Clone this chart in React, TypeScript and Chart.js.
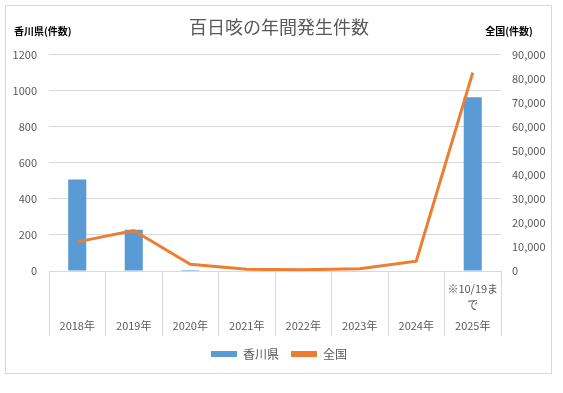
import React, { useEffect, useRef } from "react";
import { Chart, registerables } from "chart.js";

Chart.register(...registerables);

const years = ["2018年", "2019年", "2020年", "2021年", "2022年", "2023年", "2024年", "2025年"];
const kagawa = [507, 229, 5, 0, 0, 0, 0, 963];
const national = [12115, 16850, 2794, 707, 493, 974, 4054, 82500];
const leftTicks = [0, 200, 400, 600, 800, 1000, 1200];
const rightTicks = [0, 10000, 20000, 30000, 40000, 50000, 60000, 70000, 80000, 90000];
const noteLines = ["※10/19ま", "で"];
const noteIndex = 7;

const FONT = "'Noto Sans CJK JP', 'Noto Sans', sans-serif";
const GRAY = "#595959";
const GRID = "#d9d9d9";

const extras = {
  id: "extras",
  afterDraw(chart: any) {
    const ctx = chart.ctx;
    const x = chart.scales.x;
    const y = chart.scales.y;
    ctx.save();
    // axis titles
    ctx.fillStyle = "#000";
    ctx.font = `bold 10px ${FONT}`;
    ctx.textBaseline = "middle";
    ctx.textAlign = "left";
    ctx.fillText("香川県(件数)", 8, 25);
    ctx.textAlign = "center";
    ctx.fillText("全国(件数)", 503, 25);
    // category labels
    ctx.fillStyle = GRAY;
    ctx.font = `11px ${FONT}`;
    years.forEach((t, i) => {
      ctx.fillText(t, x.getPixelForValue(i), y.bottom + 55);
    });
    // annotation under 2025
    const cx = x.getPixelForValue(noteIndex);
    noteLines.forEach((t, i) => {
      ctx.fillText(t, cx, y.bottom + 18 + i * 16);
    });
    ctx.restore();
  },
};

export default function App() {
  const ref = useRef<HTMLCanvasElement>(null);
  useEffect(() => {
    document.body.style.margin = "0";
    const chart = new Chart(ref.current!, {
      data: {
        labels: years,
        datasets: [
          {
            type: "line",
            label: "全国",
            data: national,
            yAxisID: "y1",
            borderColor: "#ED7D31",
            backgroundColor: "#ED7D31",
            borderWidth: 3,
            pointRadius: 0,
            tension: 0,
            order: 0,
          },
          {
            type: "bar",
            label: "香川県",
            data: kagawa,
            yAxisID: "y",
            backgroundColor: "#5B9BD5",
            barPercentage: 0.32,
            categoryPercentage: 1,
            order: 1,
          },
        ],
      } as any,
      options: {
        animation: false,
        responsive: false,
        maintainAspectRatio: false,
        layout: { padding: { left: 7, right: 6, top: 0, bottom: 3 } },
        plugins: {
          title: {
            display: true,
            text: "百日咳の年間発生件数",
            color: GRAY,
            font: { family: FONT, size: 18, weight: "normal" },
            padding: { top: 10, bottom: 17 },
          },
          legend: {
            display: true,
            position: "bottom",
            labels: {
              color: GRAY,
              font: { family: FONT, size: 12 },
              boxWidth: 26,
              boxHeight: 6,
              padding: 12,
              generateLabels: (chart: any) => {
                const ds = chart.data.datasets;
                return [
                  { text: "香川県", fillStyle: ds[1].backgroundColor, strokeStyle: ds[1].backgroundColor, lineWidth: 0, datasetIndex: 1, fontColor: GRAY },
                  { text: "全国", fillStyle: ds[0].borderColor, strokeStyle: ds[0].borderColor, lineWidth: 0, datasetIndex: 0, fontColor: GRAY },
                ];
              },
            },
          },
          tooltip: { enabled: false },
        },
        scales: {
          x: {
            grid: {
              offset: true,
              drawOnChartArea: false,
              drawTicks: true,
              tickLength: 65,
              color: GRID,
            },
            border: { display: true, color: GRID },
            ticks: { display: false },
            afterFit: (s: any) => { s.height = 65; },
          },
          y: {
            position: "left",
            min: 0,
            max: 1200,
            afterBuildTicks: (s: any) => { s.ticks = leftTicks.map((v) => ({ value: v })); },
            grid: { color: GRID, drawTicks: false },
            border: { display: false },
            ticks: {
              color: GRAY,
              font: { family: FONT, size: 11 },
              padding: 12,
              callback: (v: any) => String(v),
            },
            afterFit: (s: any) => { s.width = 36; },
          },
          y1: {
            position: "right",
            min: 0,
            max: 90000,
            afterBuildTicks: (s: any) => { s.ticks = rightTicks.map((v) => ({ value: v })); },
            grid: { drawOnChartArea: false, drawTicks: false },
            border: { display: false },
            ticks: {
              color: GRAY,
              font: { family: FONT, size: 11 },
              padding: 11,
              callback: (v: any) => Number(v).toLocaleString("en-US"),
            },
            afterFit: (s: any) => { s.width = 44; },
          },
        },
      } as any,
      plugins: [extras],
    });
    return () => chart.destroy();
  }, []);
  return (
    <div
      style={{
        position: "absolute",
        left: 5,
        top: 5,
        width: 545,
        height: 367,
        border: "1px solid #d9d9d9",
        background: "#fff",
      }}
    >
      <canvas ref={ref} width={545} height={367} style={{ display: "block" }} />
    </div>
  );
}
